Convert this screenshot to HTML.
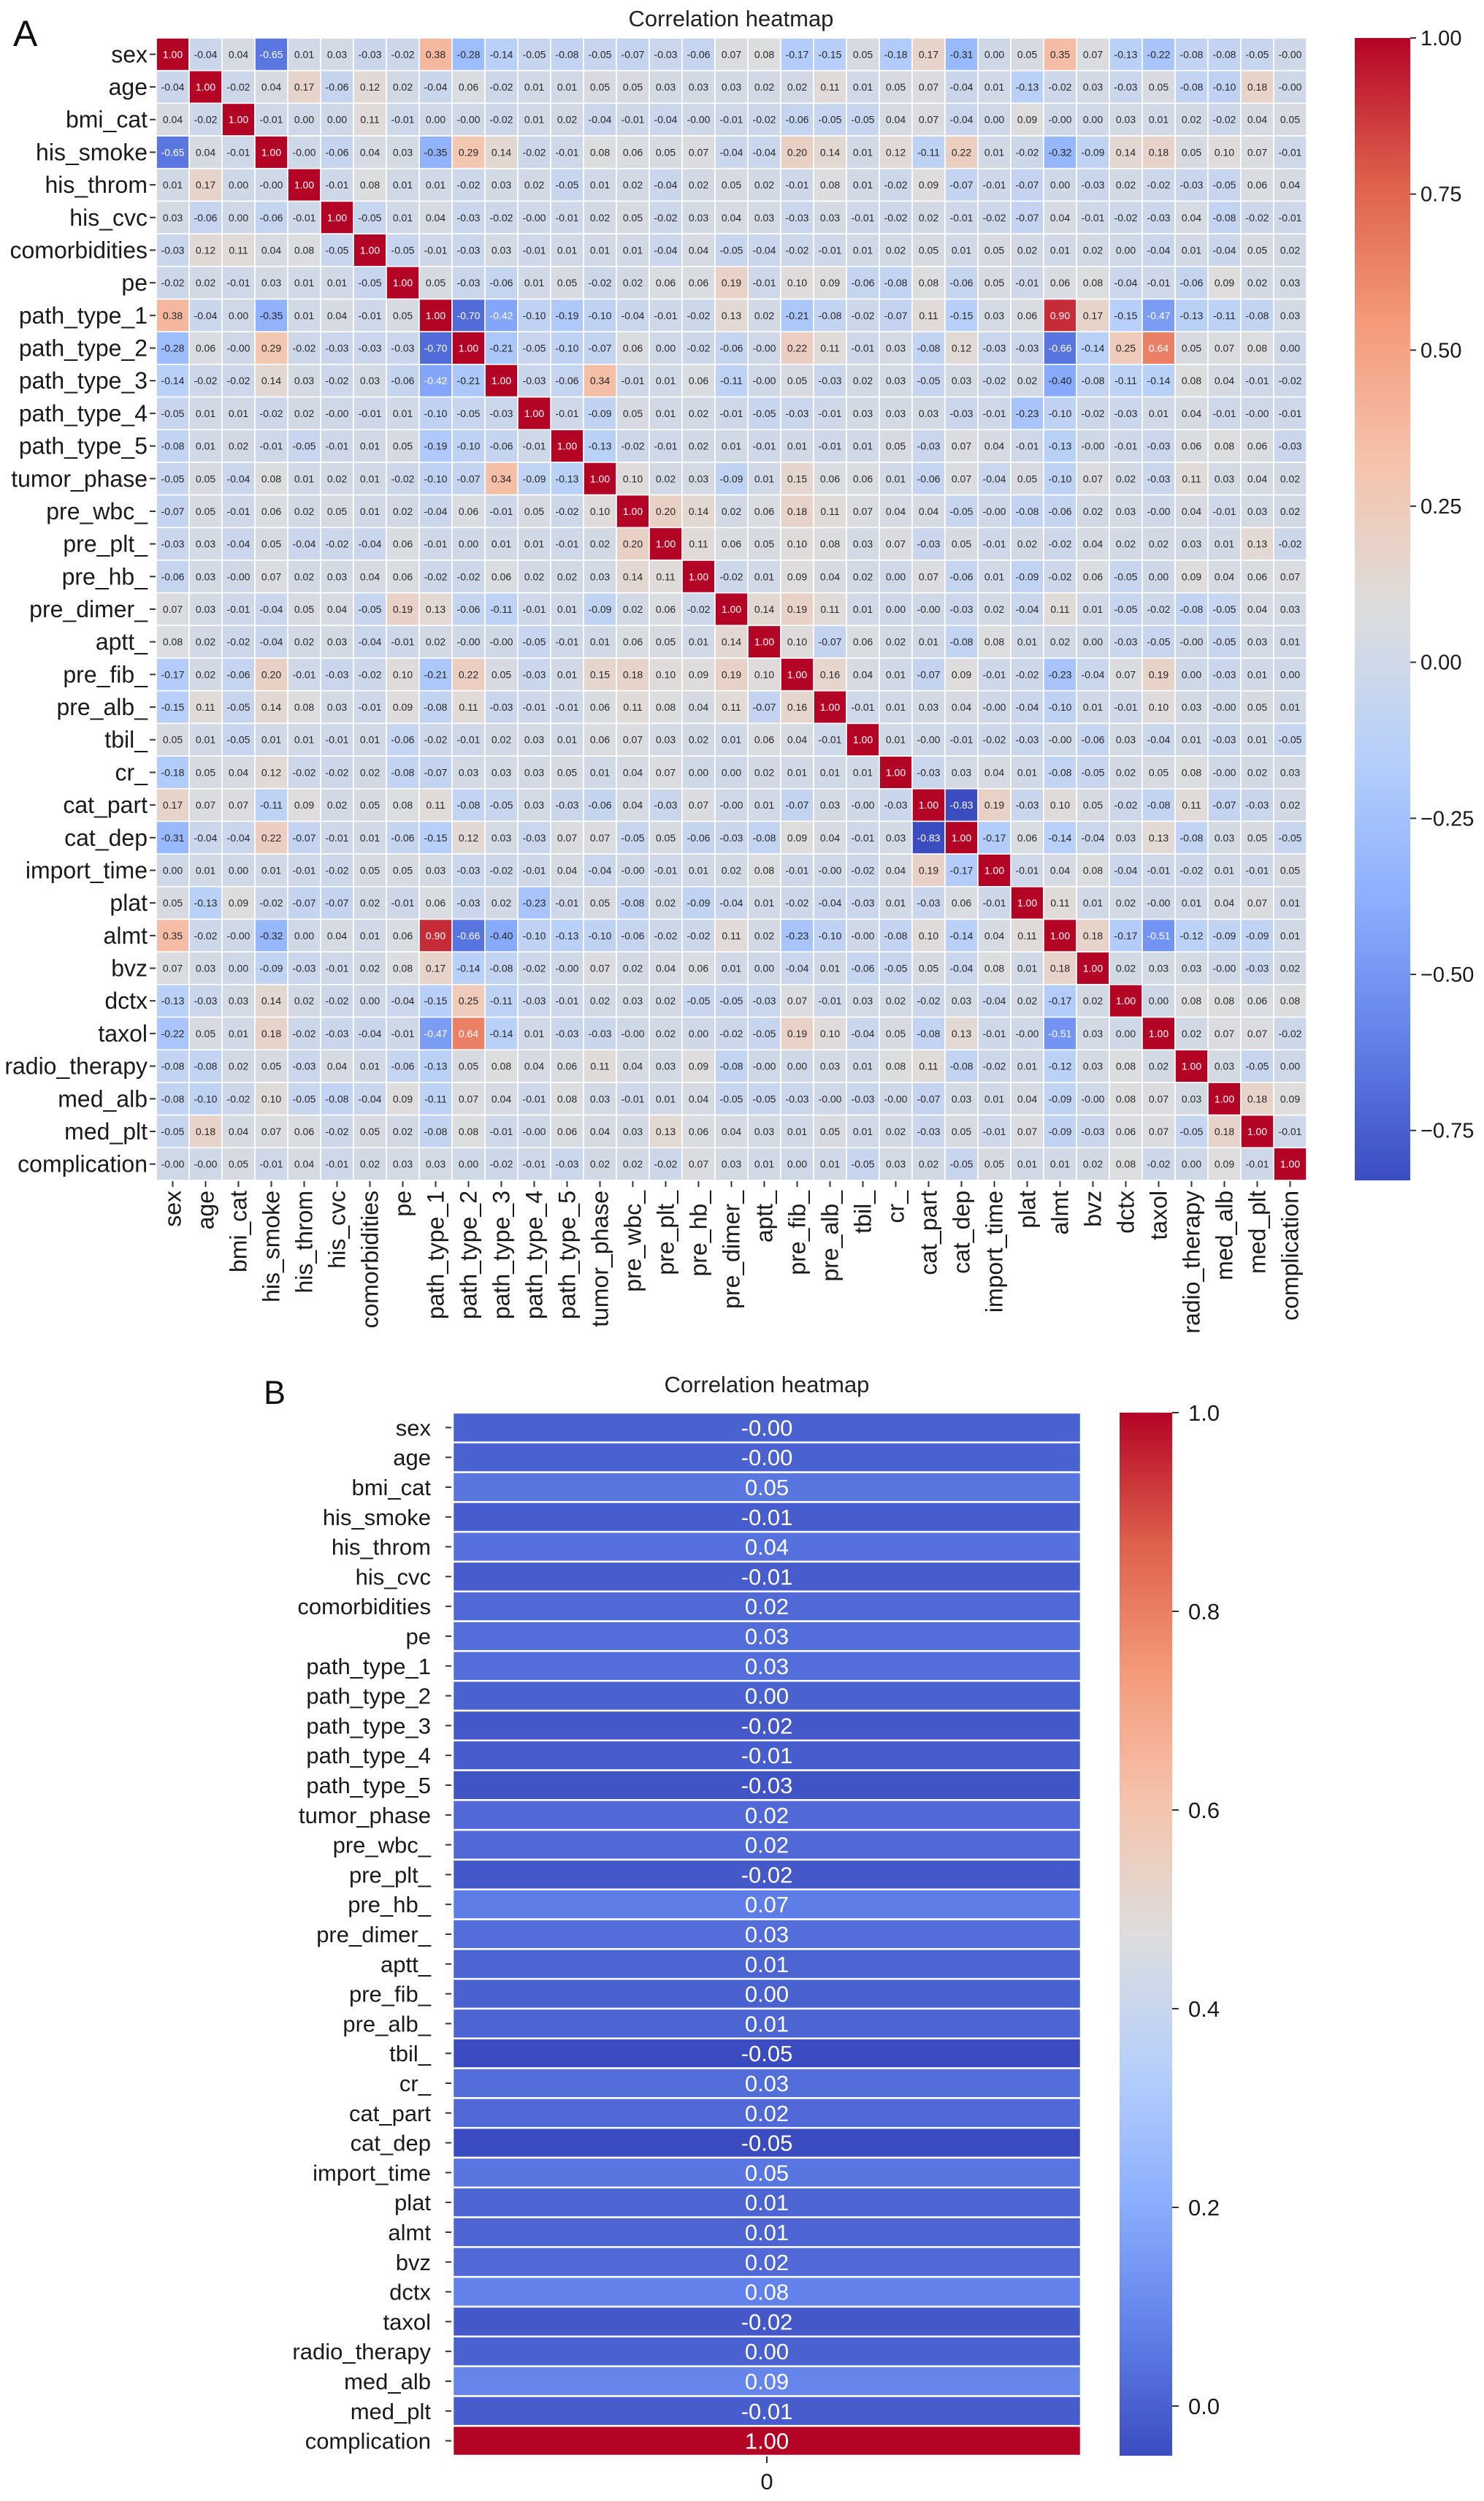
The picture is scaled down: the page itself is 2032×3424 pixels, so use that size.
<!DOCTYPE html>
<html><head><meta charset="utf-8">
<style>
html,body{margin:0;padding:0;background:#fff;}
svg{display:block;font-family:"Liberation Sans",Arial,sans-serif;}
</style></head>
<body>
<svg id="fig" xmlns="http://www.w3.org/2000/svg" width="2032" height="3424" viewBox="0 0 2032 3424">
  <rect x="0" y="0" width="2032" height="3424" fill="#ffffff"/>
  <text x="18" y="63" font-size="50" fill="#111">A</text>
  <text x="1001" y="36" font-size="31" fill="#222" text-anchor="middle">Correlation heatmap</text>
  <text x="361" y="1922" font-size="45" fill="#111">B</text>
  <text x="1050" y="1906" font-size="31" fill="#222" text-anchor="middle">Correlation heatmap</text>
  <defs>
    <linearGradient id="gradA" x1="0" y1="1" x2="0" y2="0"></linearGradient>
    <linearGradient id="gradB" x1="0" y1="1" x2="0" y2="0"></linearGradient>
  </defs>
  <g id="panelA"></g>
  <g id="panelB"></g>
</svg>
<script>
const labels = ["sex","age","bmi_cat","his_smoke","his_throm","his_cvc","comorbidities","pe","path_type_1","path_type_2","path_type_3","path_type_4","path_type_5","tumor_phase","pre_wbc_","pre_plt_","pre_hb_","pre_dimer_","aptt_","pre_fib_","pre_alb_","tbil_","cr_","cat_part","cat_dep","import_time","plat","almt","bvz","dctx","taxol","radio_therapy","med_alb","med_plt","complication"];

// Upper triangle rows: row i holds correlations for columns i..34
const upperRows = [
[1,-0.04,0.04,-0.65,0.01,0.03,-0.03,-0.02,0.38,-0.28,-0.14,-0.05,-0.08,-0.05,-0.07,-0.03,-0.06,0.07,0.08,-0.17,-0.15,0.05,-0.18,0.17,-0.31,0.00,0.05,0.35,0.07,-0.13,-0.22,-0.08,-0.08,-0.05,-0.00],
[1,-0.02,0.04,0.17,-0.06,0.12,0.02,-0.04,0.06,-0.02,0.01,0.01,0.05,0.05,0.03,0.03,0.03,0.02,0.02,0.11,0.01,0.05,0.07,-0.04,0.01,-0.13,-0.02,0.03,-0.03,0.05,-0.08,-0.10,0.18,-0.00],
[1,-0.01,0.00,0.00,0.11,-0.01,0.00,-0.00,-0.02,0.01,0.02,-0.04,-0.01,-0.04,-0.00,-0.01,-0.02,-0.06,-0.05,-0.05,0.04,0.07,-0.04,0.00,0.09,-0.00,0.00,0.03,0.01,0.02,-0.02,0.04,0.05],
[1,-0.00,-0.06,0.04,0.03,-0.35,0.29,0.14,-0.02,-0.01,0.08,0.06,0.05,0.07,-0.04,-0.04,0.20,0.14,0.01,0.12,-0.11,0.22,0.01,-0.02,-0.32,-0.09,0.14,0.18,0.05,0.10,0.07,-0.01],
[1,-0.01,0.08,0.01,0.01,-0.02,0.03,0.02,-0.05,0.01,0.02,-0.04,0.02,0.05,0.02,-0.01,0.08,0.01,-0.02,0.09,-0.07,-0.01,-0.07,0.00,-0.03,0.02,-0.02,-0.03,-0.05,0.06,0.04],
[1,-0.05,0.01,0.04,-0.03,-0.02,-0.00,-0.01,0.02,0.05,-0.02,0.03,0.04,0.03,-0.03,0.03,-0.01,-0.02,0.02,-0.01,-0.02,-0.07,0.04,-0.01,-0.02,-0.03,0.04,-0.08,-0.02,-0.01],
[1,-0.05,-0.01,-0.03,0.03,-0.01,0.01,0.01,0.01,-0.04,0.04,-0.05,-0.04,-0.02,-0.01,0.01,0.02,0.05,0.01,0.05,0.02,0.01,0.02,0.00,-0.04,0.01,-0.04,0.05,0.02],
[1,0.05,-0.03,-0.06,0.01,0.05,-0.02,0.02,0.06,0.06,0.19,-0.01,0.10,0.09,-0.06,-0.08,0.08,-0.06,0.05,-0.01,0.06,0.08,-0.04,-0.01,-0.06,0.09,0.02,0.03],
[1,-0.70,-0.42,-0.10,-0.19,-0.10,-0.04,-0.01,-0.02,0.13,0.02,-0.21,-0.08,-0.02,-0.07,0.11,-0.15,0.03,0.06,0.90,0.17,-0.15,-0.47,-0.13,-0.11,-0.08,0.03],
[1,-0.21,-0.05,-0.10,-0.07,0.06,0.00,-0.02,-0.06,-0.00,0.22,0.11,-0.01,0.03,-0.08,0.12,-0.03,-0.03,-0.66,-0.14,0.25,0.64,0.05,0.07,0.08,0.00],
[1,-0.03,-0.06,0.34,-0.01,0.01,0.06,-0.11,-0.00,0.05,-0.03,0.02,0.03,-0.05,0.03,-0.02,0.02,-0.40,-0.08,-0.11,-0.14,0.08,0.04,-0.01,-0.02],
[1,-0.01,-0.09,0.05,0.01,0.02,-0.01,-0.05,-0.03,-0.01,0.03,0.03,0.03,-0.03,-0.01,-0.23,-0.10,-0.02,-0.03,0.01,0.04,-0.01,-0.00,-0.01],
[1,-0.13,-0.02,-0.01,0.02,0.01,-0.01,0.01,-0.01,0.01,0.05,-0.03,0.07,0.04,-0.01,-0.13,-0.00,-0.01,-0.03,0.06,0.08,0.06,-0.03],
[1,0.10,0.02,0.03,-0.09,0.01,0.15,0.06,0.06,0.01,-0.06,0.07,-0.04,0.05,-0.10,0.07,0.02,-0.03,0.11,0.03,0.04,0.02],
[1,0.20,0.14,0.02,0.06,0.18,0.11,0.07,0.04,0.04,-0.05,-0.00,-0.08,-0.06,0.02,0.03,-0.00,0.04,-0.01,0.03,0.02],
[1,0.11,0.06,0.05,0.10,0.08,0.03,0.07,-0.03,0.05,-0.01,0.02,-0.02,0.04,0.02,0.02,0.03,0.01,0.13,-0.02],
[1,-0.02,0.01,0.09,0.04,0.02,0.00,0.07,-0.06,0.01,-0.09,-0.02,0.06,-0.05,0.00,0.09,0.04,0.06,0.07],
[1,0.14,0.19,0.11,0.01,0.00,-0.00,-0.03,0.02,-0.04,0.11,0.01,-0.05,-0.02,-0.08,-0.05,0.04,0.03],
[1,0.10,-0.07,0.06,0.02,0.01,-0.08,0.08,0.01,0.02,0.00,-0.03,-0.05,-0.00,-0.05,0.03,0.01],
[1,0.16,0.04,0.01,-0.07,0.09,-0.01,-0.02,-0.23,-0.04,0.07,0.19,0.00,-0.03,0.01,0.00],
[1,-0.01,0.01,0.03,0.04,-0.00,-0.04,-0.10,0.01,-0.01,0.10,0.03,-0.00,0.05,0.01],
[1,0.01,-0.00,-0.01,-0.02,-0.03,-0.00,-0.06,0.03,-0.04,0.01,-0.03,0.01,-0.05],
[1,-0.03,0.03,0.04,0.01,-0.08,-0.05,0.02,0.05,0.08,-0.00,0.02,0.03],
[1,-0.83,0.19,-0.03,0.10,0.05,-0.02,-0.08,0.11,-0.07,-0.03,0.02],
[1,-0.17,0.06,-0.14,-0.04,0.03,0.13,-0.08,0.03,0.05,-0.05],
[1,-0.01,0.04,0.08,-0.04,-0.01,-0.02,0.01,-0.01,0.05],
[1,0.11,0.01,0.02,-0.00,0.01,0.04,0.07,0.01],
[1,0.18,-0.17,-0.51,-0.12,-0.09,-0.09,0.01],
[1,0.02,0.03,0.03,-0.00,-0.03,0.02],
[1,0.00,0.08,0.08,0.06,0.08],
[1,0.02,0.07,0.07,-0.02],
[1,0.03,-0.05,0.00],
[1,0.18,0.09],
[1,-0.01],
[1]
];

const complicationValues = [-0.00,-0.00,0.05,-0.01,0.04,-0.01,0.02,0.03,0.03,0.00,-0.02,-0.01,-0.03,0.02,0.02,-0.02,0.07,0.03,0.01,0.00,0.01,-0.05,0.03,0.02,-0.05,0.05,0.01,0.01,0.02,0.08,-0.02,0.00,0.09,-0.01,1.00];
const bColumnLabels = ["0"];

const aTicks = [1.00,0.75,0.50,0.25,0.00,-0.25,-0.50,-0.75];
const bTicks = [1.0,0.8,0.6,0.4,0.2,0.0];
const aRange = [-0.83, 1.00];
const bRange = [-0.05, 1.00];

const NS = "http://www.w3.org/2000/svg";
function el(tag, parent, attrs){
  const e = document.createElementNS(NS, tag);
  for (const k in attrs) e.setAttribute(k, attrs[k]);
  parent.appendChild(e);
  return e;
}
// coolwarm colormap control points
const CW = [[59,76,192],[98,130,234],[141,176,254],[184,208,249],[221,221,221],[245,196,173],[244,154,123],[221,96,76],[180,4,38]];
function coolwarm(t){
  t = Math.max(0, Math.min(1, t));
  const p = t*(CW.length-1), i = Math.min(Math.floor(p), CW.length-2), f = p-i;
  return CW[i].map((c,k)=>Math.round(c+(CW[i+1][k]-c)*f));
}
function rgb(c){return "rgb("+c[0]+","+c[1]+","+c[2]+")";}
function lum(c){
  const l = c.map(v=>{v/=255; return v<=0.03928? v/12.92 : Math.pow((v+0.055)/1.055,2.4);});
  return 0.2126*l[0]+0.7152*l[1]+0.0722*l[2];
}
function fmt(v, d){
  const neg = v<0 || Object.is(v,-0);
  return (neg?"-":"") + Math.abs(v).toFixed(d);
}
function fmtTick(v, d){
  const neg = v<0;
  return (neg?"\u2212":"") + Math.abs(v).toFixed(d);
}

// full symmetric matrix
const N = labels.length;
const M = [];
for (let i=0;i<N;i++){ M.push(new Array(N).fill(0)); }
for (let i=0;i<N;i++){
  for (let k=0;k<upperRows[i].length;k++){
    const j = i+k;
    M[i][j] = upperRows[i][k];
    M[j][i] = upperRows[i][k];
  }
}

// gradients
function fillGrad(id){
  const g = document.getElementById(id);
  for (let s=0;s<=32;s++){
    const t = s/32;
    el("stop", g, {offset: t, "stop-color": rgb(coolwarm(t))});
  }
}
fillGrad("gradA"); fillGrad("gradB");

// ---------- Panel A ----------
(function(){
  const g = document.getElementById("panelA");
  const L = 214, T = 52, R = 1789, B = 1616;
  const cw = (R-L)/N, ch = (B-T)/N;
  const xScale = j => L + j*cw;
  const yScale = i => T + i*ch;
  const norm = v => (v - aRange[0])/(aRange[1]-aRange[0]);
  for (let i=0;i<N;i++){
    for (let j=0;j<N;j++){
      const v = M[i][j];
      const c = coolwarm(norm(v));
      const r = el("rect", g, {x:xScale(j), y:yScale(i), width:cw, height:ch, fill:rgb(c), stroke:"#ffffff", "stroke-width":1.6});
      
      
      const t = el("text", g, {x:xScale(j)+cw/2, y:yScale(i)+ch/2+5, "font-size":14, "text-anchor":"middle", fill: lum(c)<0.408 ? "#ffffff" : "#262626"});
      t.textContent = fmt(v,2);
      
      
    }
  }
  for (let i=0;i<N;i++){
    const cy = yScale(i)+ch/2;
    const tk = el("line", g, {x1:L-9, x2:L-1, y1:cy, y2:cy, stroke:"#333", "stroke-width":2});
    
    
    const lb = el("text", g, {x:L-12, y:cy+11, "font-size":32, "text-anchor":"end", fill:"#1a1a1a"});
    lb.textContent = labels[i];
    
    
  }
  for (let j=0;j<N;j++){
    const cx = xScale(j)+cw/2;
    const tk = el("line", g, {x1:cx, x2:cx, y1:B+1, y2:B+9, stroke:"#333", "stroke-width":2});
    
    
    const lb = el("text", g, {x:0, y:0, "font-size":32, "text-anchor":"end", fill:"#1a1a1a", transform:"translate("+(cx+11)+","+(B+14)+") rotate(-90)"});
    lb.textContent = labels[j];
    
    
  }
  // colorbar
  const cbL = 1855, cbW = 76;
  const cb = el("rect", g, {x:cbL, y:T, width:cbW, height:B-T, fill:"url(#gradA)"});
  
  
  const cbY = v => T + (aRange[1]-v)/(aRange[1]-aRange[0])*(B-T);
  aTicks.forEach(v=>{
    const y = cbY(v);
    const tk = el("line", g, {x1:cbL+cbW, x2:cbL+cbW+8, y1:y, y2:y, stroke:"#333", "stroke-width":2});
    
    
    const lb = el("text", g, {x:cbL+cbW+14, y:y+10, "font-size":29, fill:"#1a1a1a"});
    lb.textContent = fmtTick(v,2);
    
    
  });
})();

// ---------- Panel B ----------
(function(){
  const g = document.getElementById("panelB");
  const L = 620, R = 1480, T = 1934, B = 3362;
  const n = complicationValues.length;
  const rh = (B-T)/n;
  const yScale = i => T + i*rh;
  const norm = v => (v - bRange[0])/(bRange[1]-bRange[0]);
  for (let i=0;i<n;i++){
    const v = complicationValues[i];
    const c = coolwarm(norm(v));
    const r = el("rect", g, {x:L, y:yScale(i), width:R-L, height:rh, fill:rgb(c), stroke:"#ffffff", "stroke-width":2.5});
    
    
    const t = el("text", g, {x:(L+R)/2, y:yScale(i)+rh/2+11, "font-size":31, "text-anchor":"middle", fill: lum(c)<0.408 ? "#ffffff" : "#262626"});
    t.textContent = fmt(v,2);
    
    
    const cy = yScale(i)+rh/2;
    const tk = el("line", g, {x1:L-10, x2:L-2, y1:cy, y2:cy, stroke:"#333", "stroke-width":2});
    
    
    const lb = el("text", g, {x:L-30, y:cy+11, "font-size":31, "text-anchor":"end", fill:"#1a1a1a"});
    lb.textContent = labels[i];
    
    
  }
  const cx = (L+R)/2;
  const xt = el("line", g, {x1:cx, x2:cx, y1:B+1, y2:B+10, stroke:"#333", "stroke-width":2});
  
  
  const xl = el("text", g, {x:cx, y:B+46, "font-size":31, "text-anchor":"middle", fill:"#1a1a1a"});
  xl.textContent = bColumnLabels[0];
  
  
  const cbL = 1533, cbW = 72;
  const cb = el("rect", g, {x:cbL, y:T, width:cbW, height:B-T, fill:"url(#gradB)"});
  
  
  const cbY = v => T + (bRange[1]-v)/(bRange[1]-bRange[0])*(B-T);
  bTicks.forEach(v=>{
    const y = cbY(v);
    const tk = el("line", g, {x1:cbL+cbW, x2:cbL+cbW+9, y1:y, y2:y, stroke:"#333", "stroke-width":2});
    
    
    const lb = el("text", g, {x:cbL+cbW+22, y:y+11, "font-size":31, fill:"#1a1a1a"});
    lb.textContent = fmtTick(v,1);
    
    
  });
})();
</script>
</body></html>
